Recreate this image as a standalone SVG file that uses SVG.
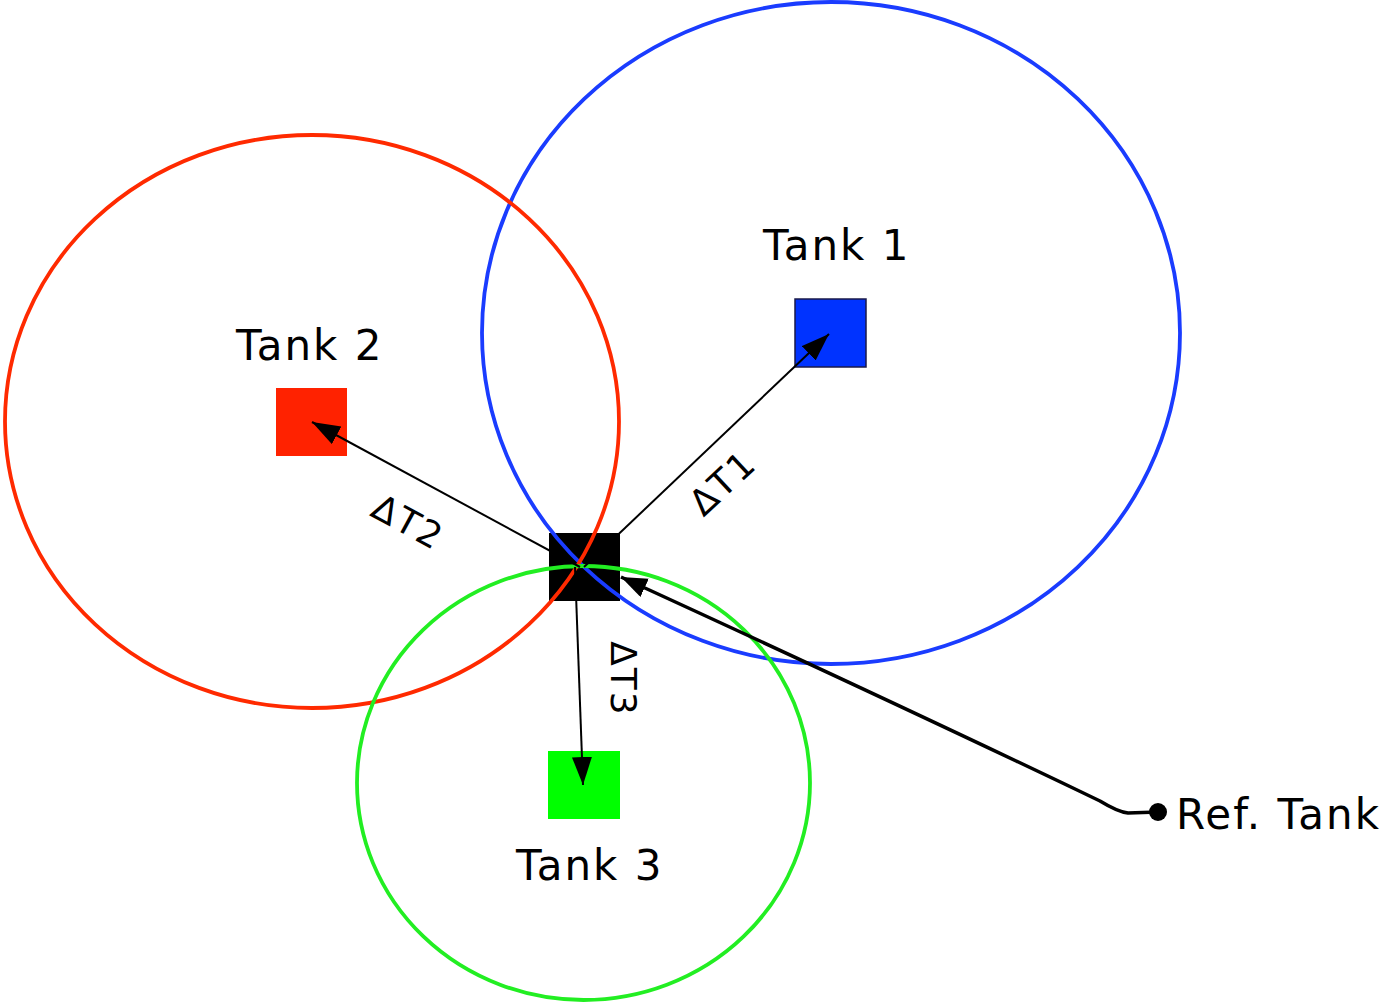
<svg xmlns="http://www.w3.org/2000/svg" width="1383" height="1002" viewBox="0 0 1383 1002">
<defs>
<style>
.ring{fill:none;stroke-width:3.8}
.lbl{font-family:"DejaVu Sans",Verdana,sans-serif;font-size:42px;letter-spacing:2px;fill:#000}
.dl{font-family:"DejaVu Sans",Verdana,sans-serif;font-size:36px;letter-spacing:2px;fill:#000;text-anchor:middle}
.arr{fill:none;stroke:#000;stroke-width:2;marker-end:url(#ah)}
</style>
<marker id="ah" markerUnits="userSpaceOnUse" markerWidth="30" markerHeight="24" refX="28" refY="10" orient="auto">
<path d="M0,0 L28,10 L0,20 Z" fill="#000"/>
</marker>
<marker id="ah2" markerUnits="userSpaceOnUse" markerWidth="30" markerHeight="24" refX="26" refY="10" orient="auto">
<path d="M0,0 L26,10 L0,20 Z" fill="#000"/>
</marker>
</defs>
<rect width="1383" height="1002" fill="#fff"/>
<g id="ref-square"><rect x="549" y="533" width="71" height="68" fill="#000"/></g>
<g id="tank1"><rect x="795" y="299" width="71" height="68" fill="#0033ff" stroke="#1a1a4a" stroke-width="1.5"/><text class="lbl" x="763" y="260">Tank 1</text></g>
<g id="tank2"><rect x="276" y="388" width="71" height="68" fill="#ff2200"/><text class="lbl" x="236" y="360">Tank 2</text></g>
<g id="tank3"><rect x="548" y="751" width="72" height="68" fill="#00ff00"/><text class="lbl" x="516" y="880">Tank 3</text></g>
<g id="circles">
<ellipse class="ring" cx="831" cy="333" rx="349" ry="331" stroke="#1a3cff"/>
<ellipse class="ring" cx="312" cy="421.5" rx="307" ry="286.5" stroke="#ff2a00"/>
<ellipse class="ring" cx="583.5" cy="783" rx="226.5" ry="217" stroke="#22ee22"/>
</g>
<g id="connectors">
<line class="arr" x1="584" y1="567" x2="829" y2="334"/>
<line class="arr" x1="580" y1="567" x2="312" y2="422"/>
<line class="arr" x1="575" y1="567" x2="583" y2="785"/>
<path d="M1158,812 L1128,813 Q1118,812 1100,801 Q900,705 621,577" fill="none" stroke="#000" stroke-width="3.5" marker-end="url(#ah2)"/>
<circle cx="1158" cy="812" r="9" fill="#000"/>
<text class="dl" transform="translate(731,492) rotate(-43)">ΔT1</text>
<text class="dl" transform="translate(402,533) rotate(28.5)">ΔT2</text>
<text class="dl" transform="translate(611,679) rotate(90)">ΔT3</text>
</g>
<g id="ref-label"><text class="lbl" x="1176" y="829">Ref. Tank</text></g>
</svg>
